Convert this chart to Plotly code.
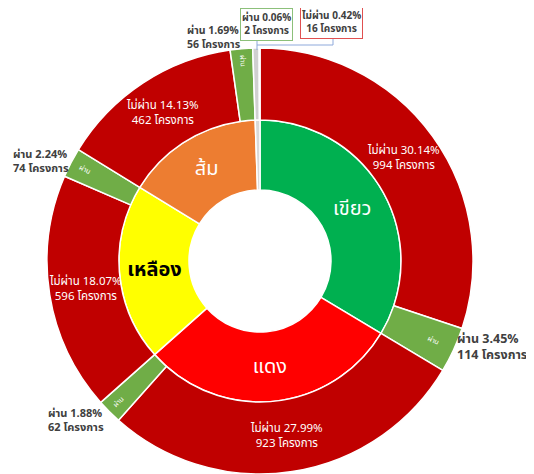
import math
import plotly.graph_objects as go

# ---------------- data ----------------
categories = ["เขียว", "แดง", "เหลือง", "ส้ม", "อื่น"]
fail_counts = [994, 923, 596, 462, 16]
pass_counts = [114, 62, 74, 56, 2]
fail_pct = ["30.14%", "27.99%", "18.07%", "14.13%", "0.42%"]
pass_pct = ["3.45%", "1.88%", "2.24%", "1.69%", "0.06%"]
show_cat_label = [True, True, True, True, False]

# ---------------- styles ----------------
W, H = 534, 474
OFF = 8                      # page body margin of the browser
CX, CY = 260, 261            # screen pixel centre of the rings
R_OUT, R_MID, R_HOLE = 213, 141, 71
FONT = "Tahoma, Noto Sans Thai, Noto Sans, sans-serif"

cat_colors = ["#00B050", "#FF0000", "#FFFF00", "#ED7D31", "#D9D9D9"]
cat_text_colors = ["white", "white", "black", "white", "white"]
FAIL_COLOR = "#C00000"
PASS_COLOR = "#70AD47"
TINY_COLOR = "#D0D0D0"


def px(x):
    return (x - OFF) / W


def py(y):
    return 1 - (y - OFF) / H


def dom(r):
    return dict(x=[px(CX - r), px(CX + r)], y=[py(CY + r), py(CY - r)])


inner_values = [f + p for f, p in zip(fail_counts, pass_counts)]
inner_text = [(f"<b>{c}</b>" if c == "เหลือง" else c) if s else ""
              for c, s in zip(categories, show_cat_label)]

outer_labels, outer_values, outer_colors, pass_text = [], [], [], []
for i, c in enumerate(categories):
    tiny = not show_cat_label[i]
    outer_labels += [f"{c} ไม่ผ่าน", f"{c} ผ่าน"]
    outer_values += [fail_counts[i], pass_counts[i]]
    outer_colors += [TINY_COLOR if tiny else FAIL_COLOR, TINY_COLOR if tiny else PASS_COLOR]
    pass_text += ["", "" if tiny else "ผ่าน"]

common = dict(labels=outer_labels, values=outer_values, textinfo="text", sort=False,
              direction="clockwise", rotation=0, hole=R_MID / R_OUT, domain=dom(R_OUT),
              showlegend=False, textposition="inside")

fig = go.Figure()
fig.add_trace(go.Pie(
    labels=categories, values=inner_values, text=inner_text,
    textinfo="text", sort=False, direction="clockwise", rotation=0,
    hole=R_HOLE / R_MID, domain=dom(R_MID),
    marker=dict(colors=cat_colors, line=dict(color="white", width=1.5)),
    insidetextfont=dict(color=cat_text_colors, size=20, family=FONT),
    textposition="inside", insidetextorientation="horizontal",
    showlegend=False, hoverinfo="label+value",
))
fig.add_trace(go.Pie(
    text=[""] * len(outer_values),
    marker=dict(colors=outer_colors, line=dict(color="white", width=1.5)),
    hoverinfo="label+value", **common,
))
fig.add_trace(go.Pie(
    text=pass_text,
    marker=dict(colors=["rgba(0,0,0,0)"] * len(outer_values), line=dict(width=0)),
    insidetextfont=dict(color="white", size=7, family=FONT),
    insidetextorientation="radial", hoverinfo="skip", **common,
))

# "ไม่ผ่าน" labels: placed at the middle of each fail slice, angle taken from the data
total = sum(outer_values)
R_TXT = (R_MID + R_OUT) / 2
cum = 0
for i, c in enumerate(categories):
    mid = (cum + fail_counts[i] / 2) / total * 2 * math.pi
    cum += fail_counts[i] + pass_counts[i]
    if not show_cat_label[i]:
        continue
    x = CX + R_TXT * math.sin(mid)
    y = CY - R_TXT * math.cos(mid)
    fig.add_annotation(text=f"ไม่ผ่าน {fail_pct[i]}<br>{fail_counts[i]} โครงการ",
                       x=px(x), y=py(y), xref="paper", yref="paper",
                       xanchor="center", yanchor="middle", showarrow=False, align="center",
                       font=dict(size=11.5, color="white", family=FONT))

# outside labels for the pass slices and the tiny category
LBL_COLOR = "#404040"
ann_specs = [
    # (text, x_px, y_px, xanchor, yanchor, size, border)
    (f"ผ่าน {pass_pct[3]}<br>{pass_counts[3]} โครงการ", 185, 21, "left", "top", 10.5, None),
    (f"ผ่าน {pass_pct[4]}<br>{pass_counts[4]} โครงการ", 266, 24, "center", "middle", 10, "#8CC07A"),
    (f"ไม่ผ่าน {fail_pct[4]}<br>{fail_counts[4]} โครงการ", 331, 23, "center", "middle", 10, "#E05050"),
    (f"ผ่าน {pass_pct[2]}<br>{pass_counts[2]} โครงการ", 11, 144, "left", "top", 11, None),
    (f"ผ่าน {pass_pct[0]}<br>{pass_counts[0]} โครงการ", 455, 328, "left", "top", 12.5, None),
    (f"ผ่าน {pass_pct[1]}<br>{pass_counts[1]} โครงการ", 46, 403, "left", "top", 11, None),
]
for txt, x, y, xa, ya, sz, border in ann_specs:
    kw = dict(text=f"<b>{txt}</b>", x=px(x), y=py(y), xref="paper", yref="paper",
              xanchor=xa, yanchor=ya, showarrow=False, align="left",
              font=dict(size=sz, color=LBL_COLOR, family=FONT))
    if border:
        kw.update(bordercolor=border, borderwidth=1, borderpad=1, bgcolor="white", align="center")
    fig.add_annotation(**kw)

LINE_COLOR = "#8EA9DB"
for x0, y0, x1, y1 in [(257, 39, 257, 50), (333, 38, 333, 45), (333, 45, 257, 45)]:
    fig.add_shape(type="line", xref="paper", yref="paper",
                  x0=px(x0), y0=py(y0), x1=px(x1), y1=py(y1),
                  line=dict(color=LINE_COLOR, width=1))

fig.update_layout(
    width=W, height=H, margin=dict(l=0, r=0, t=0, b=0),
    paper_bgcolor="white", plot_bgcolor="white",
    font=dict(family=FONT),
)
fig.write_html("out.html")
